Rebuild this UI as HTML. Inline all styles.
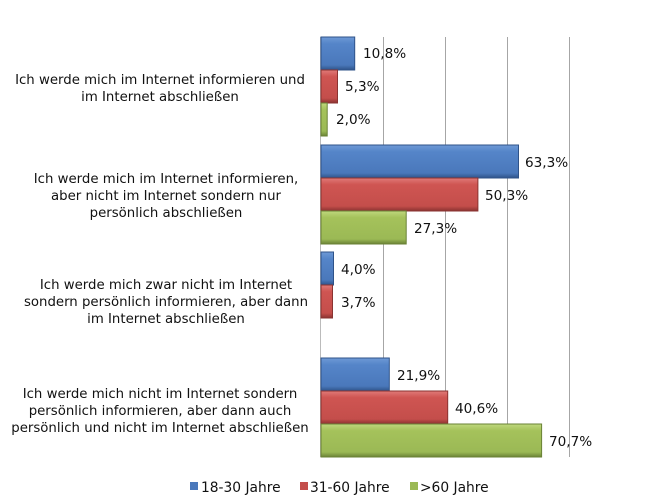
<!DOCTYPE html>
<html><head><meta charset="utf-8"><style>
body{margin:0;background:#fff;}
text{font-family:"DejaVu Sans","Liberation Sans",sans-serif;fill:#111;}
</style></head><body>
<svg width="666" height="498" viewBox="0 0 666 498" xmlns="http://www.w3.org/2000/svg">
<defs>
<linearGradient id="gb" x1="0" y1="0" x2="0" y2="1"><stop offset="0" stop-color="#6f9ad6"/><stop offset="0.2" stop-color="#5585c9"/><stop offset="0.85" stop-color="#4a78bb"/><stop offset="1" stop-color="#2f5389"/></linearGradient>
<linearGradient id="gr" x1="0" y1="0" x2="0" y2="1"><stop offset="0" stop-color="#e07a78"/><stop offset="0.2" stop-color="#cf5552"/><stop offset="0.85" stop-color="#c44e4b"/><stop offset="1" stop-color="#8a3331"/></linearGradient>
<linearGradient id="gg" x1="0" y1="0" x2="0" y2="1"><stop offset="0" stop-color="#bfd87e"/><stop offset="0.2" stop-color="#a5c25b"/><stop offset="0.85" stop-color="#9bb955"/><stop offset="1" stop-color="#6a8236"/></linearGradient>
</defs>
<g stroke="#a6a6a6" stroke-width="1">
<line x1="383.5" y1="37" x2="383.5" y2="457"/>
<line x1="445.5" y1="37" x2="445.5" y2="457"/>
<line x1="507.5" y1="37" x2="507.5" y2="457"/>
<line x1="569.5" y1="37" x2="569.5" y2="457"/>
</g>
<line x1="320.5" y1="37" x2="320.5" y2="457" stroke="#bbb"/>
<g stroke-width="1">
<rect x="321" y="37" width="33.7" height="33" fill="url(#gb)" stroke="#2f5389"/>
<rect x="321" y="70" width="16.5" height="33" fill="url(#gr)" stroke="#8a3331"/>
<rect x="321" y="103" width="6.2" height="33" fill="url(#gg)" stroke="#6a8236"/>
<rect x="321" y="145" width="197.5" height="33" fill="url(#gb)" stroke="#2f5389"/>
<rect x="321" y="178" width="156.9" height="33" fill="url(#gr)" stroke="#8a3331"/>
<rect x="321" y="211" width="85.2" height="33" fill="url(#gg)" stroke="#6a8236"/>
<rect x="321" y="252" width="12.5" height="33" fill="url(#gb)" stroke="#2f5389"/>
<rect x="321" y="285" width="11.5" height="33" fill="url(#gr)" stroke="#8a3331"/>
<rect x="321" y="358" width="68.3" height="33" fill="url(#gb)" stroke="#2f5389"/>
<rect x="321" y="391" width="126.7" height="33" fill="url(#gr)" stroke="#8a3331"/>
<rect x="321" y="424" width="220.6" height="33" fill="url(#gg)" stroke="#6a8236"/>
</g>
<g font-size="13.6">
<text x="363" y="58">10,8%</text>
<text x="345" y="91">5,3%</text>
<text x="336" y="124">2,0%</text>
<text x="525" y="167">63,3%</text>
<text x="485" y="200">50,3%</text>
<text x="414" y="233">27,3%</text>
<text x="341" y="274">4,0%</text>
<text x="341" y="307">3,7%</text>
<text x="397" y="380">21,9%</text>
<text x="455" y="413">40,6%</text>
<text x="549" y="446">70,7%</text>
</g>
<g font-size="13.3" text-anchor="middle" xml:space="preserve">
<text x="160" y="84">Ich werde mich im Internet informieren und</text>
<text x="160" y="101">im Internet abschließen</text>
<text x="166" y="183">Ich werde mich im Internet  informieren,</text>
<text x="166" y="200">aber nicht im Internet sondern nur</text>
<text x="166" y="217">persönlich abschließen</text>
<text x="166" y="289">Ich werde mich zwar nicht im Internet</text>
<text x="166" y="306">sondern persönlich informieren, aber dann</text>
<text x="166" y="323">im Internet abschließen</text>
<text x="160" y="398">Ich werde mich  nicht im Internet sondern</text>
<text x="160" y="415">persönlich informieren, aber dann auch</text>
<text x="160" y="432">persönlich und nicht im Internet abschließen</text>
</g>
<rect x="190" y="482" width="8" height="8" fill="#4a78bb"/>
<text x="201" y="492" font-size="13.8">18-30 Jahre</text>
<rect x="300" y="482" width="8" height="8" fill="#c44e4b"/>
<text x="310" y="492" font-size="13.8">31-60 Jahre</text>
<rect x="410" y="482" width="8" height="8" fill="#9bb955"/>
<text x="420" y="492" font-size="13.8">&gt;60 Jahre</text>
</svg>
</body></html>
